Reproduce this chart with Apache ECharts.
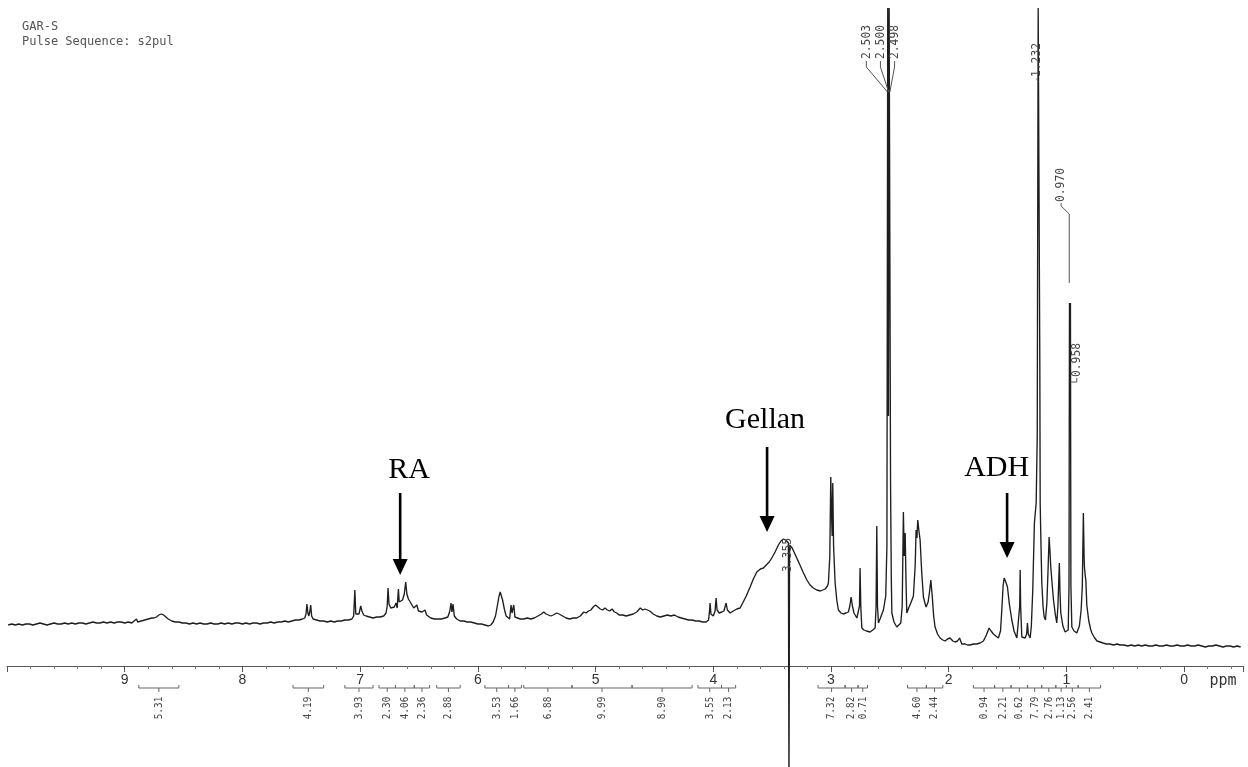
<!DOCTYPE html>
<html><head><meta charset="utf-8">
<script src="https://cdn.jsdelivr.net/npm/echarts@6/dist/echarts.min.js"></script>
<style>html,body{margin:0;padding:0;background:#fff}#c{width:1248px;height:767px}</style>
</head><body><div id="c"></div>
<script>
// ---------------- DATA ----------------
const headerLine1 = 'GAR-S';
const headerLine2 = 'Pulse Sequence: s2pul';
const tickLabels = ['0','1','2','3','4','5','6','7','8','9'];
const axisUnit = 'ppm';

// spectrum: [chemical shift (ppm), intensity]
const spectrum = [
[9.99,41],[9.96,42],[9.93,41],[9.90,42],[9.87,41],[9.84,42],[9.81,42],[9.78,41],[9.75,42],[9.72,43],[9.69,42],[9.66,41],[9.63,42],[9.60,43],[9.57,42],[9.54,42],[9.51,43],[9.48,42],[9.45,43],[9.42,42],[9.39,43],[9.36,43],[9.33,42],[9.30,43],[9.27,44],[9.24,43],[9.21,43],[9.18,44],[9.15,43],[9.12,44],[9.09,43],[9.06,44],[9.03,44],[9.00,43],[8.97,44],[8.94,43],[8.92,45],[8.90,47],[8.89,44],[8.86,45],[8.83,46],[8.80,47],[8.77,48],[8.75,48],[8.73,49],[8.71,51],[8.69,52],[8.67,51],[8.65,49],[8.63,47],[8.60,45],[8.57,44],[8.54,44],[8.51,43],[8.48,43],[8.45,42],[8.42,43],[8.39,42],[8.36,43],[8.33,42],[8.30,42],[8.27,43],[8.24,42],[8.21,42],[8.18,43],[8.15,42],[8.12,43],[8.09,42],[8.06,43],[8.03,43],[8.00,42],[7.97,43],[7.94,42],[7.91,43],[7.88,43],[7.85,42],[7.82,43],[7.79,43],[7.76,44],[7.73,43],[7.70,44],[7.67,44],[7.64,45],[7.61,44],[7.58,45],[7.55,46],[7.52,46],[7.49,47],[7.47,48],
[7.46,52],[7.452,62],[7.444,53],[7.436,50],[7.428,54],[7.42,61],[7.412,50],[7.40,47],[7.37,46],[7.34,45],[7.31,45],[7.28,44],[7.25,45],[7.22,44],[7.19,45],[7.16,45],[7.13,46],[7.10,46],[7.07,47],[7.055,50],[7.045,76],[7.037,52],[7.025,50],[7.01,52],[6.995,60],[6.985,55],[6.97,51],[6.95,50],[6.92,49],[6.89,48],[6.86,49],[6.83,49],[6.80,50],[6.78,53],[6.77,60],[6.763,78],[6.755,62],[6.74,58],[6.725,56],[6.71,59],[6.695,63],[6.685,58],[6.675,77],[6.668,64],[6.655,62],[6.64,66],[6.625,72],[6.613,84],[6.603,72],[6.59,67],[6.575,64],[6.56,62],[6.545,58],[6.53,59],[6.518,61],[6.505,55],[6.49,53],[6.475,54],[6.46,55],[6.449,56],[6.435,51],[6.42,49],[6.40,48],[6.37,47],[6.34,47],[6.31,47],[6.28,48],[6.255,49],[6.238,55],[6.228,63],[6.22,54],[6.211,62],[6.20,50],[6.18,47],[6.15,45],[6.12,45],[6.09,44],[6.06,44],[6.03,43],[6.00,42],
[5.97,42],[5.94,41],[5.91,40],[5.89,41],[5.87,44],[5.85,50],[5.835,60],[5.82,70],[5.81,74],[5.80,72],[5.79,66],[5.775,57],[5.76,50],[5.745,48],[5.73,47],[5.718,61],[5.71,53],[5.703,52],[5.695,61],[5.685,49],[5.67,48],[5.64,47],[5.61,47],[5.58,48],[5.55,47],[5.52,48],[5.49,50],[5.46,52],[5.44,54],[5.42,52],[5.40,51],[5.38,50],[5.36,51],[5.33,53],[5.31,52],[5.28,50],[5.25,48],[5.22,47],[5.19,48],[5.16,48],[5.13,50],[5.10,54],[5.08,53],[5.06,55],[5.04,56],[5.02,59],[5.00,61],[4.98,59],[4.96,57],[4.94,56],[4.92,58],[4.90,56],[4.88,55],[4.86,57],[4.84,54],[4.82,53],[4.80,51],[4.77,51],[4.74,50],[4.71,51],[4.68,52],[4.65,54],[4.62,58],[4.60,56],[4.58,57],[4.565,58],
[4.54,55],[4.51,52],[4.48,50],[4.45,49],[4.42,50],[4.39,51],[4.36,50],[4.33,51],[4.30,49],[4.27,48],[4.24,47],[4.21,46],[4.18,46],[4.15,45],[4.12,45],[4.09,44],[4.06,44],[4.04,46],[4.032,55],[4.027,63],[4.02,52],[4.00,50],[3.985,55],[3.976,68],[3.968,56],[3.95,53],[3.928,54],[3.91,55],[3.898,60],[3.891,63],[3.88,56],[3.857,53],[3.83,55],[3.80,57],[3.772,58],[3.75,63],[3.72,70],[3.687,79],[3.66,87],[3.63,94],[3.60,97],[3.574,98],[3.55,101],[3.525,104],[3.503,108],[3.475,114],[3.447,121],[3.425,125],[3.404,127],[3.385,126],[3.37,124],[3.362,123],[3.357,-120],[3.352,121],[3.33,118],[3.31,113],[3.291,108],[3.26,100],[3.234,93],[3.205,86],[3.178,81],[3.15,78],[3.121,76],[3.09,75],[3.07,76],[3.05,77],[3.03,80],[3.022,83],[3.01,110],[3.002,189],[2.995,150],[2.99,130],[2.985,183],[2.978,120],[2.965,83],[2.95,65],[2.937,56],[2.915,53],[2.895,52],[2.872,53],[2.852,54],[2.84,60],[2.829,69],[2.818,60],[2.805,53],[2.795,51],[2.78,48],[2.767,46],[2.758,60],[2.753,98],[2.747,60],[2.738,38],[2.72,36],[2.70,35],[2.668,34],[2.645,36],[2.625,38],[2.617,60],[2.611,140],[2.605,60],[2.597,43],[2.58,48],[2.555,56],[2.535,70],[2.525,120],[2.518,658],[2.512,250],[2.506,658],[2.500,658],[2.494,180],[2.488,90],[2.483,53],[2.465,44],[2.441,39],[2.425,40],[2.407,43],[2.395,60],[2.385,154],[2.378,110],[2.37,133],[2.362,80],[2.356,53],[2.34,58],[2.322,63],[2.30,70],[2.285,100],[2.277,136],[2.27,128],[2.263,146],[2.253,135],[2.243,126],[2.23,95],[2.215,69],[2.20,62],[2.192,59],[2.175,64],[2.162,75],[2.152,86],[2.14,70],[2.128,50],[2.116,39],[2.095,32],[2.073,28],[2.05,26],[2.031,25],[2.01,27],[1.988,28],[1.965,25],[1.946,24],[1.925,25],[1.908,28],[1.903,30],[1.898,26],[1.889,22],[1.86,22],[1.84,21],[1.818,21],[1.79,22],[1.761,22],[1.735,23],[1.705,25],[1.68,31],[1.657,38],[1.64,35],[1.62,32],[1.60,30],[1.578,28],[1.56,35],[1.549,56],[1.538,80],[1.529,88],[1.515,84],[1.501,79],[1.485,62],[1.464,46],[1.445,35],[1.421,28],[1.405,30],[1.397,60],[1.393,96],[1.389,60],[1.379,29],[1.365,30],[1.351,28],[1.338,32],[1.331,43],[1.324,32],[1.308,28],[1.298,40],[1.286,76],[1.272,143],[1.257,163],[1.248,230],[1.240,658],[1.232,658],[1.226,300],[1.223,163],[1.216,120],[1.209,83],[1.199,60],[1.189,49],[1.178,46],[1.166,63],[1.155,100],[1.147,129],[1.14,115],[1.133,99],[1.12,80],[1.11,66],[1.095,52],[1.082,43],[1.072,60],[1.064,90],[1.06,103],[1.055,75],[1.048,53],[1.03,40],[1.011,34],[0.995,33],[0.985,36],[0.978,80],[0.974,363],[0.970,330],[0.966,363],[0.962,80],[0.954,39],[0.935,35],[0.912,33],[0.89,40],[0.875,56],[0.865,80],[0.856,153],[0.85,110],[0.847,99],[0.84,90],[0.835,86],[0.827,61],[0.81,45],[0.795,37],[0.784,33],[0.76,28],[0.74,25],[0.714,24],[0.69,23],[0.66,22],[0.63,22],[0.60,21],[0.57,22],[0.544,21],
[0.51,21],[0.48,20],[0.45,21],[0.42,20],[0.39,21],[0.36,20],[0.33,21],[0.30,20],[0.27,20],[0.24,21],[0.21,20],[0.18,20],[0.15,21],[0.12,20],[0.09,20],[0.06,21],[0.03,20],[0.00,20],[-0.03,21],[-0.06,20],[-0.09,20],[-0.12,21],[-0.15,20],[-0.18,19],[-0.21,20],[-0.24,20],[-0.27,21],[-0.30,20],[-0.33,19],[-0.36,20],[-0.39,20],[-0.42,19],[-0.45,20],[-0.48,19]
];

// integral regions [from ppm, to ppm] and their integral values
const integralRanges = [
[8.88,8.54],[7.57,7.31],[7.13,6.89],[6.84,6.70],[6.70,6.54],[6.54,6.41],[6.35,6.15],
[5.94,5.74],[5.74,5.63],[5.61,5.20],[5.20,4.69],[4.69,4.18],[4.13,3.93],[3.93,3.81],
[3.11,2.88],[2.88,2.77],[2.77,2.69],[2.35,2.19],[2.19,2.05],
[1.79,1.61],[1.61,1.47],[1.47,1.33],[1.33,1.21],[1.21,1.09],[1.09,1.00],[1.00,0.90],[0.90,0.71]
];
const integralValues = ['5.31','4.19','3.93','2.30','4.06','2.36','2.88','3.53','1.66','6.88','9.99','8.90','3.55','2.13','7.32','2.82','0.71','4.60','2.44','0.94','2.21','0.62','7.79','2.76','1.13','2.56','2.41'];

const peakLabels = ['2.503','2.500','2.498','1.232','0.970','0.958','3.355'];
const annotationTexts = ['RA','Gellan','ADH'];

// ---------------- LAYOUT (positions in data units) ----------------
const L = {
  xMin: -0.5, xMax: 10, yMin: 0, yMax: 666,
  integralY: -22, integralLabelOffset: 20,
  peakLabelPos: [[2.70,624],[2.58,624],[2.46,624],[1.249,606],[1.045,481],[0.912,306],[3.369,111]],
  peakLeaders: [
    [[2.70,605],[2.70,599],[2.52,574]],
    [[2.58,605],[2.58,599],[2.51,574]],
    [[2.46,605],[2.46,599],[2.50,574]],
    [[1.249,588],[1.249,586],[1.236,584]],
    [[1.045,463],[1.045,460],[0.976,452],[0.976,383]],
    [[0.912,288],[0.912,284],[0.966,284]],
    []
  ],
  annotationPos: [[6.585,196],[3.56,246],[1.593,198]],
  arrows: [[6.66,173,91],[3.543,219,134],[1.504,173,108]],
  unitPos: [-0.33,-15]
};

// ---------------- CHART ----------------
const chart = echarts.init(document.getElementById('c'), null, {renderer:'canvas'});
const mono = '"DejaVu Sans Mono", "Liberation Mono", monospace';

const option = {
  animation: false,
  backgroundColor: '#fff',
  grid: {left: 7, right: 5, top: 0, bottom: 101, containLabel: false, outerBoundsMode: 'none'},
  xAxis: {
    type: 'value', inverse: true, min: L.xMin, max: L.xMax, splitNumber: 10,
    axisLine: {onZero: false, lineStyle: {color: '#555', width: 1}},
    axisTick: {show: true, length: 6, lineStyle: {color: '#555'}},
    minorTick: {show: true, splitNumber: 5, length: 3, lineStyle: {color: '#777'}},
    splitLine: {show: false},
    axisLabel: {
      margin: 7, fontSize: 14, color: '#333', fontFamily: 'Liberation Sans, Arial, sans-serif',
      formatter: v => (Number.isInteger(v) && v >= 0 && v <= 9) ? tickLabels[v] : ''
    }
  },
  yAxis: {type: 'value', min: L.yMin, max: L.yMax, show: false, splitLine: {show: false}},
  graphic: [
    {type: 'text', left: 22, top: 21, style: {text: headerLine1, font: '12px ' + mono, fill: '#555'}},
    {type: 'text', left: 22, top: 36, style: {text: headerLine2, font: '12px ' + mono, fill: '#555'}}
  ],
  series: [
    {
      type: 'line', data: spectrum, showSymbol: false, clip: false, z: 3,
      lineStyle: {color: '#1e1e1e', width: 1.35}
    },
    {
      type: 'custom', clip: false, z: 4,
      data: integralValues.map((v, i) => [i, 0]),
      renderItem: (params, api) => {
        const i = params.dataIndex;
        const [a, b] = integralRanges[i];
        const p1 = api.coord([a, L.integralY]);
        const p2 = api.coord([b, L.integralY]);
        const mid = (p1[0] + p2[0]) / 2;
        const y = p1[1];
        return {type: 'group', children: [
          {type: 'polyline', shape: {points: [[p1[0], y - 3], [p1[0], y], [p2[0], y], [p2[0], y - 3]]},
           style: {stroke: '#666', lineWidth: 1, fill: 'none'}},
          {type: 'line', shape: {x1: mid, y1: y, x2: mid, y2: y + 4}, style: {stroke: '#666', lineWidth: 1}},
          {type: 'text', x: mid, y: y + L.integralLabelOffset, rotation: Math.PI / 2, scaleX: 0.85,
           style: {text: integralValues[i], font: '11px ' + mono, fill: '#444', align: 'center', verticalAlign: 'middle'}}
        ]};
      }
    },
    {
      type: 'custom', clip: false, z: 4,
      data: peakLabels.map((v, i) => [i, 0]),
      renderItem: (params, api) => {
        const i = params.dataIndex;
        const p = api.coord(L.peakLabelPos[i]);
        const children = [
          {type: 'text', x: p[0], y: p[1], rotation: Math.PI / 2, scaleX: 0.9,
           style: {text: peakLabels[i], font: '12.5px ' + mono, fill: '#444', align: 'center', verticalAlign: 'middle'}}
        ];
        const ld = L.peakLeaders[i];
        if (ld.length) {
          children.push({type: 'polyline', shape: {points: ld.map(q => api.coord(q))},
            style: {stroke: '#555', lineWidth: 1, fill: 'none'}});
        }
        return {type: 'group', children};
      }
    },
    {
      type: 'custom', clip: false, z: 5,
      data: annotationTexts.map((v, i) => [i, 0]),
      renderItem: (params, api) => {
        const i = params.dataIndex;
        const t = api.coord(L.annotationPos[i]);
        const [ax, top, tipV] = L.arrows[i];
        const a = api.coord([ax, top]);
        const tip = api.coord([ax, tipV]);
        return {type: 'group', children: [
          {type: 'text', x: t[0], y: t[1],
           style: {text: annotationTexts[i], font: '30px "Liberation Serif", "Times New Roman", serif', fill: '#000', align: 'center', verticalAlign: 'middle'}},
          {type: 'line', shape: {x1: a[0], y1: a[1], x2: tip[0], y2: tip[1] - 14}, style: {stroke: '#000', lineWidth: 2.6}},
          {type: 'polygon', shape: {points: [[tip[0] - 7.5, tip[1] - 16], [tip[0] + 7.5, tip[1] - 16], [tip[0], tip[1]]]}, style: {fill: '#000'}}
        ]};
      }
    },
    {
      type: 'custom', clip: false, z: 4,
      data: [[0, 0]],
      renderItem: (params, api) => {
        const p = api.coord(L.unitPos);
        return {type: 'text', x: p[0], y: p[1],
          style: {text: axisUnit, font: '15px ' + mono, fill: '#333', align: 'center', verticalAlign: 'middle'}};
      }
    }
  ]
};
chart.setOption(option);
</script>
</body></html>
